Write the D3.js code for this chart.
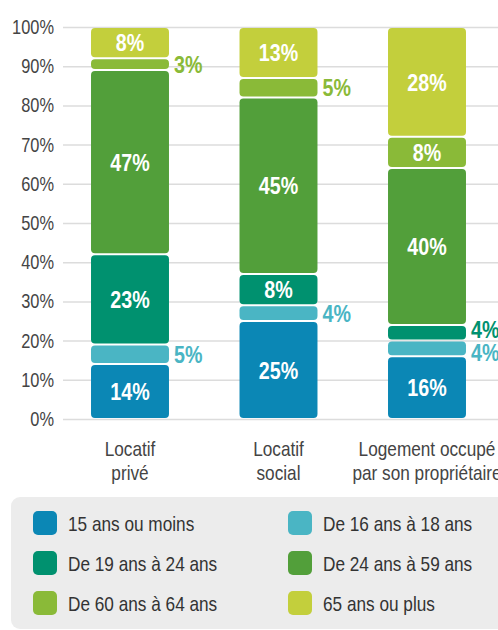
<!DOCTYPE html>
<html>
<head>
<meta charset="utf-8">
<script src="https://cdn.jsdelivr.net/npm/d3@7"></script>
<style>
  body { margin: 0; background: #fff; }
  svg { display: block; font-family: "Liberation Sans", Arial, sans-serif; }
  .tick line { stroke: #dcdcdc; stroke-width: 1.5; }
  .tick text { fill: #444; font-size: 20px; }
</style>
</head>
<body>
<svg id="chart" width="498" height="630"></svg>
<script>
// data
const categories = ["Locatif privé", "Locatif social", "Logement occupé par son propriétaire"];
const categoryLines = [["Locatif", "privé"], ["Locatif", "social"], ["Logement occupé", "par son propriétaire"]];
const ageGroups = ["15 ans ou moins", "De 16 ans à 18 ans", "De 19 ans à 24 ans",
                   "De 24 ans à 59 ans", "De 60 ans à 64 ans", "65 ans ou plus"];
const locatifPrive  = [14, 5, 23, 47, 3, 8];
const locatifSocial = [25, 4, 8, 45, 5, 13];
const proprietaire  = [16, 4, 4, 40, 8, 28];
const yTicks = [0, 0.1, 0.2, 0.3, 0.4, 0.5, 0.6, 0.7, 0.8, 0.9, 1];
const colors = ["#0b87b5", "#4ab5c4", "#00916f", "#529f3a", "#8aba38", "#c3cf3c"];

const svg = d3.select('#chart');
const W = 498;
const NARROW = 0.82; // the source uses a condensed face, squeeze Liberation Sans

// place a text at (x, y) and squeeze it horizontally
function condensed(sel, fx, fy) {
  sel.attr('x', null).attr('y', null)
    .attr('transform', (d, i) => `translate(${fx(d, i)},${fy(d, i)}) scale(${NARROW},1)`);
}

const rows = [locatifPrive, locatifSocial, proprietaire].map((vals, i) => {
  const r = { cat: categories[i] };
  ageGroups.forEach((g, j) => r[g] = vals[j] / 100);
  return r;
});
const series = d3.stack().keys(ageGroups)(rows);

const x = d3.scaleBand().domain(categories).range([55.75, 501.25])
  .paddingInner(0.475).paddingOuter(0.2375);
const y = d3.scaleLinear().domain([0, 1]).range([419, 27]);
const color = d3.scaleOrdinal().domain(ageGroups).range(colors);

// grid + y axis
const yAxis = svg.append('g')
  .attr('transform', 'translate(63,0)')
  .call(d3.axisLeft(y).tickValues(yTicks).tickFormat(d3.format('.0%'))
    .tickSize(-(W - 63)).tickPadding(9));
yAxis.select('.domain').remove();
yAxis.selectAll('.tick text').attr('font-family', null).attr('font-size', null)
  .call(condensed, () => -9, () => 0);

// bars
const layer = svg.append('g').selectAll('g').data(series).join('g')
  .attr('fill', s => color(s.key));
layer.selectAll('rect').data(s => s).join('rect')
  .attr('x', d => x(d.data.cat))
  .attr('width', x.bandwidth())
  .attr('y', d => y(d[1]) + 1)
  .attr('height', d => Math.max(0, y(d[0]) - y(d[1]) - 2))
  .attr('rx', 4);

// value labels
const labels = [];
series.forEach(s => s.forEach(d => {
  const v = Math.round((d[1] - d[0]) * 100);
  labels.push({ key: s.key, cat: d.data.cat, v, inside: v >= 6, cy: y((d[0] + d[1]) / 2) });
}));
// push apart outside labels that sit too close together
categories.forEach(c => {
  const out = labels.filter(l => l.cat === c && !l.inside).sort((a, b) => b.cy - a.cy);
  for (let i = 1; i < out.length; i++) {
    const gap = out[i - 1].cy - out[i].cy;
    if (gap < 23) {
      const push = (23 - gap) / 2;
      out[i - 1].cy += push; out[i].cy -= push;
    }
  }
});
svg.append('g').selectAll('text').data(labels).join('text')
  .attr('dy', '0.36em')
  .attr('text-anchor', d => d.inside ? 'middle' : 'start')
  .attr('font-weight', 'bold')
  .attr('font-size', 24)
  .attr('fill', d => d.inside ? '#fff' : color(d.key))
  .text(d => d.v + '%')
  .call(condensed,
    d => d.inside ? x(d.cat) + x.bandwidth() / 2 : x(d.cat) + x.bandwidth() + 5,
    d => d.cy);

// category labels
svg.append('g').selectAll('text')
  .data(categories.flatMap((c, i) => categoryLines[i].map((t, k) => ({ c, t, k }))))
  .join('text')
  .attr('text-anchor', 'middle')
  .attr('font-size', 21)
  .attr('fill', '#444')
  .text(d => d.t)
  .call(condensed, d => x(d.c) + x.bandwidth() / 2, d => 456 + d.k * 24);

// legend
svg.append('rect')
  .attr('x', 11).attr('y', 497).attr('width', 500).attr('height', 132)
  .attr('rx', 9).attr('fill', '#ececec');
const leg = svg.append('g').selectAll('g').data(ageGroups).join('g')
  .attr('transform', (d, i) => `translate(${i % 2 ? 288 : 33},${523 + Math.floor(i / 2) * 40})`);
leg.append('rect')
  .attr('y', -12).attr('width', 24).attr('height', 24).attr('rx', 5)
  .attr('fill', d => color(d));
leg.append('text')
  .attr('dy', '0.36em')
  .attr('font-size', 21).attr('fill', '#333')
  .text(d => d)
  .call(condensed, () => 35, () => 0);
</script>
</body>
</html>
